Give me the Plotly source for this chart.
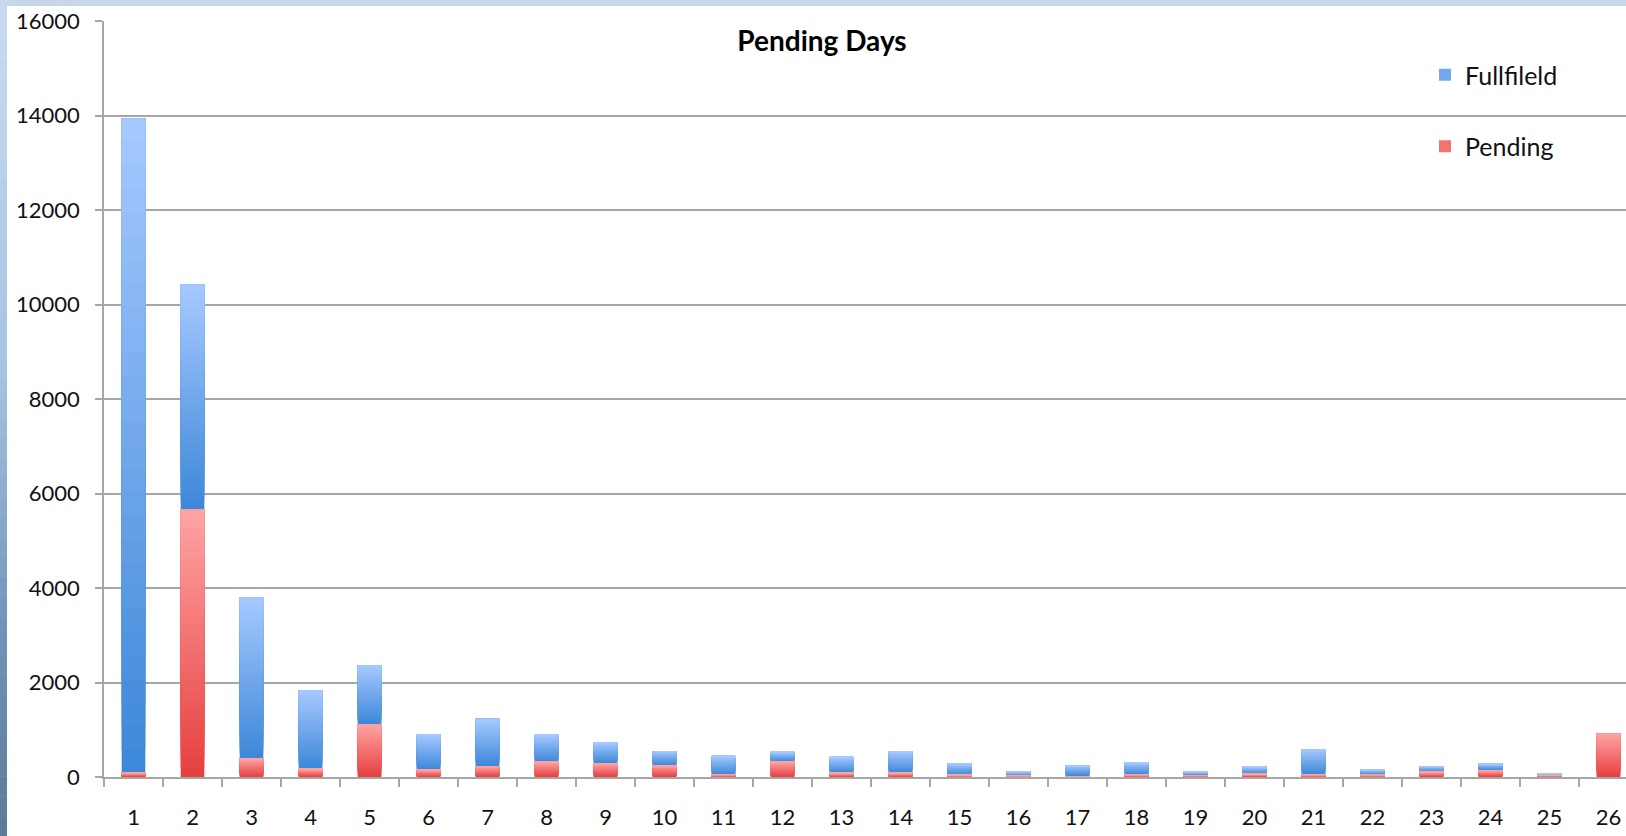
import plotly.graph_objects as go

# Days pending (categories) and counts per status
days = [str(d) for d in range(1, 27)]
fullfilled = [13840, 4760, 3410, 1660, 1250, 740, 1005, 570, 440, 305, 390, 205, 340,
              460, 240, 92, 225, 253, 80, 153, 540, 112, 120, 135, 28, 0]
pending = [90, 5660, 390, 170, 1110, 155, 225, 320, 295, 245, 55, 325, 85,
           85, 45, 28, 20, 52, 35, 65, 52, 49, 110, 145, 40, 916]
y_ticks = [0, 2000, 4000, 6000, 8000, 10000, 12000, 14000, 16000]

W, H = 1626, 836
L, R, T, B = 104, 0, 21, 59
PW, PH = W - L - R, H - T - B
CAT_PX = 59.0  # pixel width of one category slot


def px_x(x):
    return (x - L) / PW


def px_y(y):
    return (H - B - y) / PH


def hex2rgb(h):
    h = h.lstrip("#")
    return tuple(int(h[i:i + 2], 16) for i in (0, 2, 4))


def mix(c1, c2, t):
    a, b = hex2rgb(c1), hex2rgb(c2)
    return "rgb(%d,%d,%d)" % tuple(round(a[i] + (b[i] - a[i]) * t) for i in range(3))


FONT = "Lato, 'Open Sans', sans-serif"
N = 28  # shading steps per segment: dark at the bottom, light at the top

fig = go.Figure()

series = [
    ("Fullfileld", fullfilled, pending, "#3c87d8", "#a7c9ff"),
    ("Pending", pending, [0] * len(pending), "#e63f3f", "#ffa4a4"),
]
for name, vals, bases, dark, light in series:
    # each step covers from its start to the top of the segment; later steps
    # are painted over earlier ones, so no seams appear between steps
    for k in range(N):
        t = (k + 0.5) / N
        fig.add_trace(go.Bar(
            x=days,
            y=[v * (N - k) / N for v in vals],
            base=[b + v * k / N for b, v in zip(bases, vals)],
            width=0.4,
            name=name,
            legendgroup=name,
            showlegend=(k == N // 2),
            marker=dict(color=mix(dark, light, t), line=dict(width=0)),
            hoverinfo="skip",
        ))

shapes = []
# light frame strip along the top edge
shapes.append(dict(type="rect", xref="paper", yref="paper",
                   x0=px_x(0), x1=px_x(W), y0=px_y(6), y1=px_y(0),
                   fillcolor="#c7d7e9", line=dict(width=0), layer="above"))
# shaded frame strip along the left edge
stops = [(0.0, "#c8dcf0"), (0.45, "#a5c3e2"), (0.75, "#7094b8"), (1.0, "#5b7a99")]
SEG = 42
for i in range(SEG):
    t = (i + 0.5) / SEG
    for j in range(len(stops) - 1):
        if stops[j][0] <= t <= stops[j + 1][0]:
            u = (t - stops[j][0]) / (stops[j + 1][0] - stops[j][0])
            col = mix(stops[j][1], stops[j + 1][1], u)
            break
    shapes.append(dict(type="rect", xref="paper", yref="paper",
                       x0=px_x(0), x1=px_x(7),
                       y0=px_y(H * (i + 1) / SEG + 0.5), y1=px_y(H * i / SEG),
                       fillcolor=col, line=dict(width=0), layer="above"))
# white panel behind the legend
shapes.append(dict(type="rect", xref="paper", yref="paper",
                   x0=px_x(1394), x1=px_x(1607), y0=px_y(190), y1=px_y(40),
                   fillcolor="white", line=dict(width=0), layer="between"))

GRID = "#a6a6a6"
fig.update_layout(
    width=W, height=H,
    margin=dict(l=L, r=R, t=T, b=B, pad=0),
    paper_bgcolor="white", plot_bgcolor="white",
    barmode="overlay",
    font=dict(family=FONT, size=22, color="#111111"),
    title=dict(text="<b>Pending Days</b>", x=822 / W, xref="container", xanchor="center",
               y=1 - 41 / H, yref="container", yanchor="middle",
               font=dict(family=FONT, size=28, color="#000000")),
    xaxis=dict(type="category", categoryorder="array", categoryarray=days,
               range=[-0.5, -0.5 + PW / CAT_PX],
               showgrid=False, zeroline=False,
               showline=True, linecolor=GRID, linewidth=1.5,
               ticks="outside", tickson="boundaries", ticklen=8, tickwidth=1.5,
               tickcolor=GRID, ticklabelstandoff=20,
               tickfont=dict(family=FONT, size=22, color="#111111")),
    yaxis=dict(range=[0, 16000], tickvals=y_ticks, ticktext=[str(v) for v in y_ticks],
               showgrid=True, gridcolor=GRID, gridwidth=1.5, zeroline=False,
               showline=True, linecolor=GRID, linewidth=1.5,
               ticks="outside", ticklen=7, tickwidth=1.5, tickcolor=GRID,
               ticklabelstandoff=11,
               tickfont=dict(family=FONT, size=22, color="#111111")),
    legend=dict(x=px_x(1425), xanchor="left", y=px_y(52), yanchor="top",
                bgcolor="rgba(0,0,0,0)", borderwidth=0,
                traceorder="grouped", tracegroupgap=36,
                font=dict(family=FONT, size=25, color="#111111")),
    shapes=shapes,
)

fig.write_html("out.html")
